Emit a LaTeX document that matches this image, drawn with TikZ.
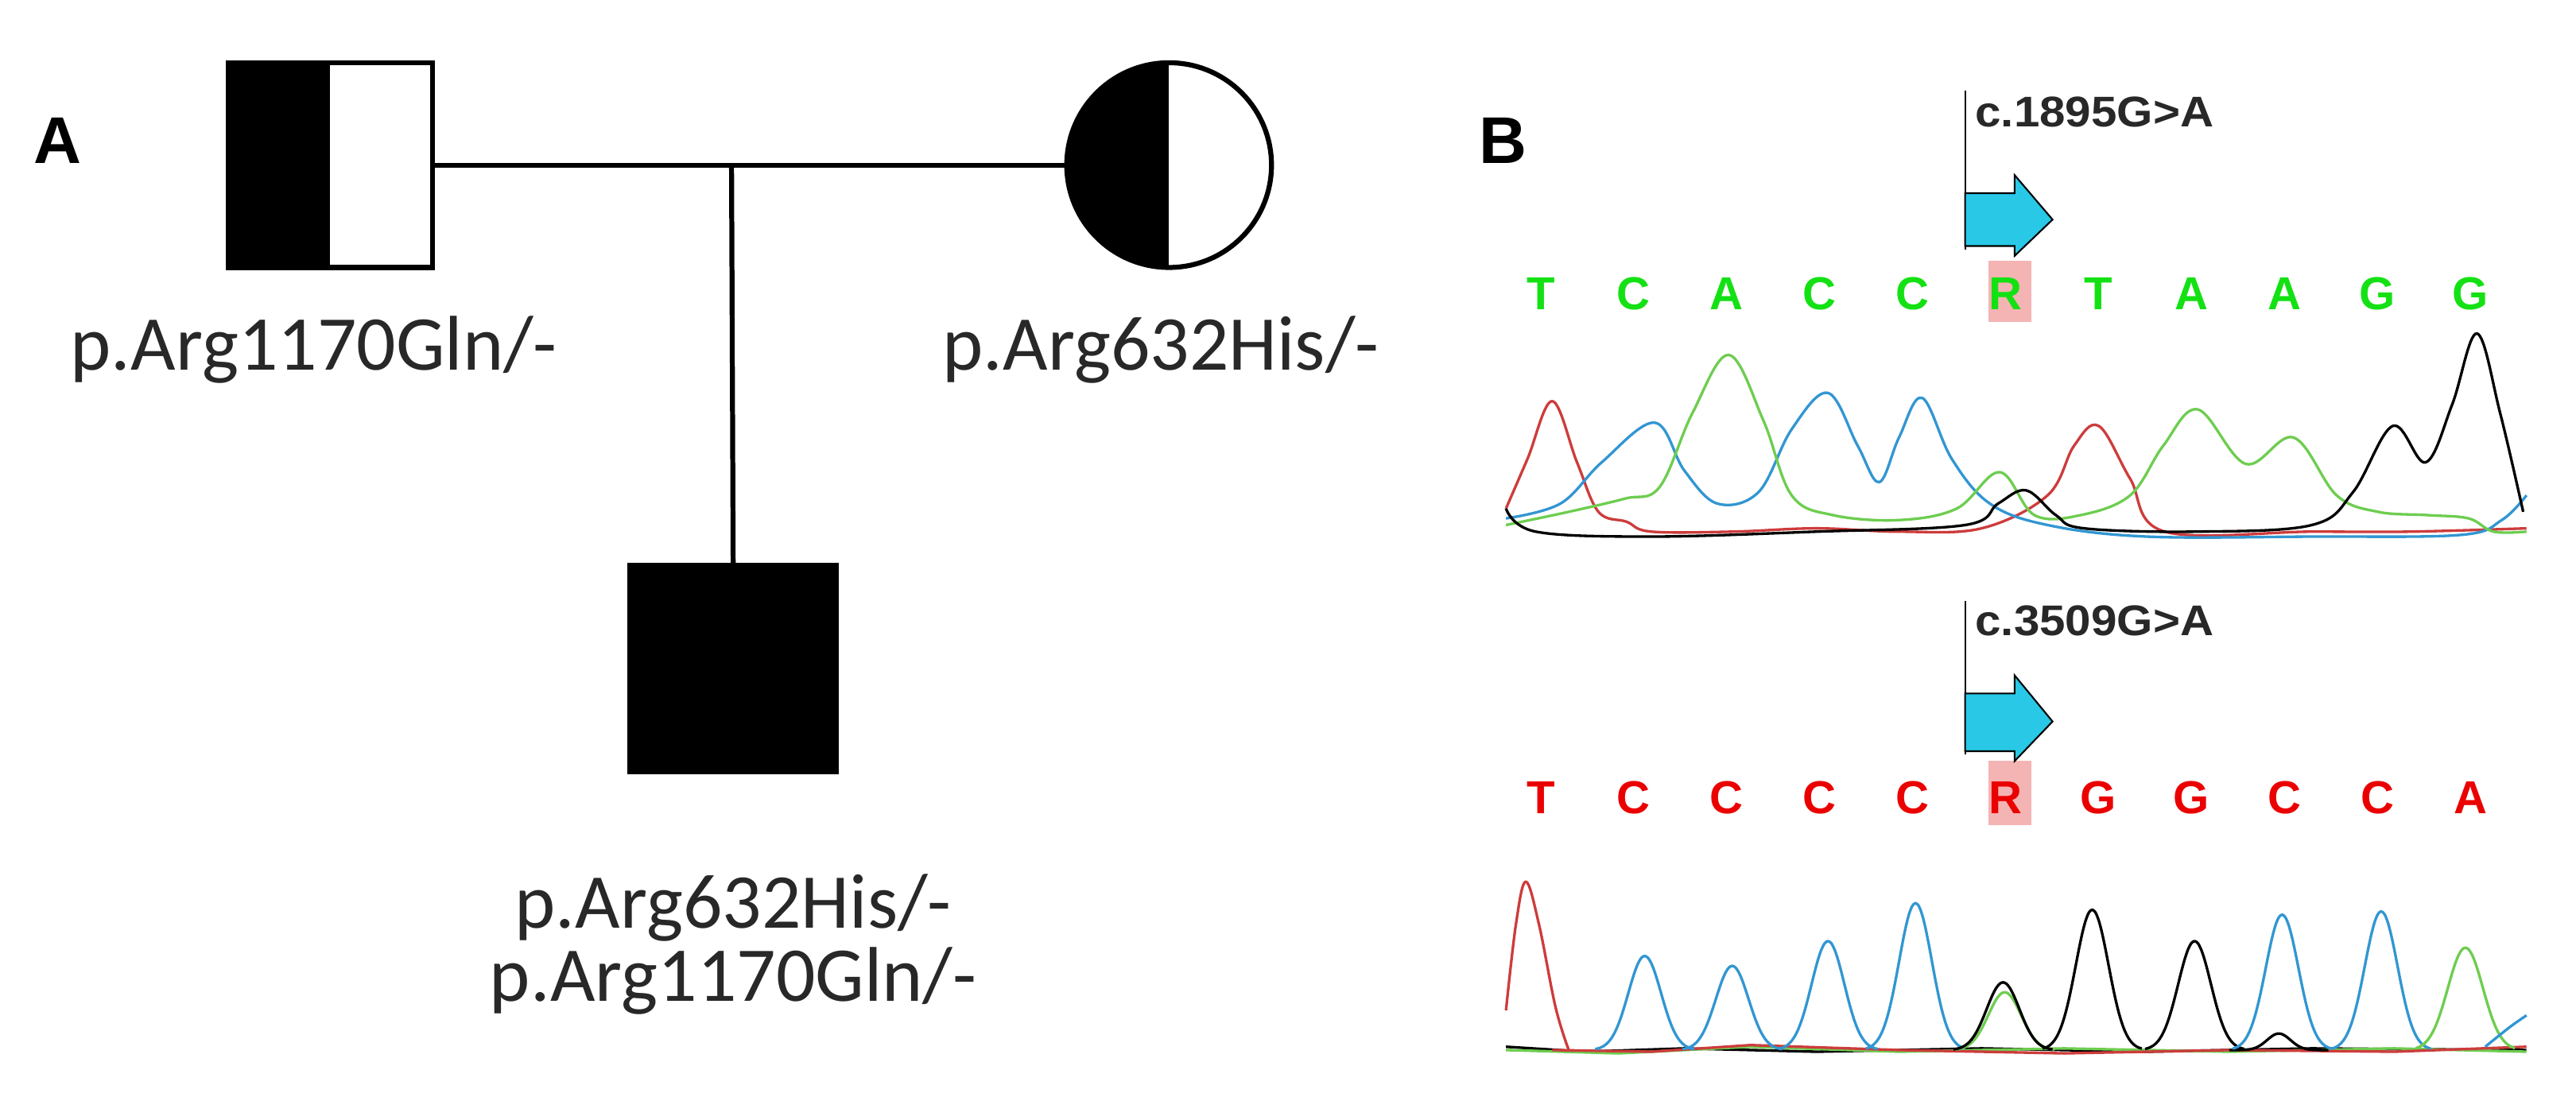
\documentclass[tikz,border=0pt]{standalone}
\usepackage{fontspec}
\setmainfont{Carlito}
\newfontfamily\arialf{Liberation Sans}
\begin{document}
\definecolor{seqg}{RGB}{20,225,20}
\definecolor{seqr}{RGB}{235,0,0}
\definecolor{tr}{RGB}{205,60,60}
\definecolor{tb}{RGB}{50,150,210}
\definecolor{tg}{RGB}{110,205,80}
\definecolor{hl}{RGB}{245,180,180}
\definecolor{cy}{RGB}{40,200,230}
\definecolor{txt}{RGB}{40,40,40}
\begin{tikzpicture}[x=1pt,y=-1pt,
  ped/.style={draw,line width=3pt,inner sep=0pt,outer sep=0pt},
  lbl/.style={font=\fontsize{47}{50}\selectfont,text=txt},
  panel/.style={font=\arialf\bfseries\fontsize{40}{44}\selectfont},
  base/.style={font=\arialf\bfseries\fontsize{28}{30}\selectfont},
  mut/.style={font=\arialf\bfseries\fontsize{26}{28}\selectfont,text=txt,xscale=1.08,anchor=west,inner sep=0pt},
  trace/.style={line width=1.6pt,line join=round}]
\useasboundingbox (0,0) rectangle (1560,664);
% ---------- Panel A ----------
\node[panel] (A) at (35,85) {A};
\node[ped,rectangle,minimum size=124pt,
  path picture={\fill[black] (path picture bounding box.north west) rectangle (path picture bounding box.south);}] (fa) at (200,100) {};
\node[ped,circle,minimum size=124pt,
  path picture={\fill[black] (path picture bounding box.north west) rectangle (path picture bounding box.south);}] (mo) at (708,100) {};
\node[ped,rectangle,minimum size=125pt,fill=black] (ch) at (444,405) {};
\draw[line width=3pt] (fa.east) -- (mo.west);
\coordinate (mid) at (443,100);
\draw[line width=3pt] (mid) -- (ch.north);
\node[lbl] (lfa) at (190,212) {p.Arg1170Gln/-};
\node[lbl] (lmo) at (703,212) {p.Arg632His/-};
\node[lbl] (lc1) at (444,550) {p.Arg632His/-};
\node[lbl] (lc2) at (444,594) {p.Arg1170Gln/-};
% ---------- Panel B ----------
\node[panel] (B) at (910,85) {B};
% chromatogram 1
\fill[hl] (1204,158) rectangle (1230,195);
\foreach \c [count=\i from 0] in {T,C,A,C,C,R,T,A,A,G,G}
  \node[base,text=seqg] (s1\i) at (933+56.3*\i,178) {\c};
\coordinate (m1top) at (1190,55);
\coordinate (m1bot) at (1190,151);
\draw[line width=1pt] (m1top) -- (m1bot);
\node[mut] (m1) at (1196,68) {c.1895G>A};
\filldraw[fill=cy,draw=black,line width=1pt] (1190,117) -- (1220,117) -- (1220,106) -- (1243,133) -- (1220,155) -- (1220,149) -- (1190,149) -- cycle;
\draw[trace,tr] plot[smooth,tension=0.6] coordinates {(912,308) (925,278) (940,243) (955,280) (968,310) (985,316) (1000,322) (1050,322) (1100,320) (1150,322) (1200,320) (1240,300) (1256,270) (1271,258) (1290,290) (1311,322) (1400,322) (1460,322) (1530,320)};
\draw[trace,tb] plot[smooth,tension=0.6] coordinates {(912,314) (945,305) (970,280) (1002,256) (1020,285) (1040,305) (1065,298) (1085,260) (1107,238) (1125,270) (1138,292) (1150,265) (1164,241) (1182,278) (1205,305) (1240,318) (1300,325) (1400,325) (1490,324) (1515,315) (1530,300)};
\draw[trace,tg] plot[smooth,tension=0.6] coordinates {(912,318) (950,310) (984,302) (1005,295) (1025,250) (1047,215) (1068,255) (1085,300) (1110,312) (1150,315) (1185,308) (1211,286) (1232,312) (1260,312) (1290,300) (1310,270) (1331,248) (1360,281) (1389,265) (1415,300) (1440,310) (1470,312) (1495,314) (1510,322) (1530,322)};
\draw[trace,black] plot[smooth,tension=0.6] coordinates {(912,308) (930,322) (1000,325) (1100,322) (1190,318) (1210,305) (1227,297) (1245,312) (1262,320) (1330,322) (1400,318) (1425,298) (1449,258) (1469,280) (1485,245) (1500,202) (1514,250) (1528,310)};
% chromatogram 2
\fill[hl] (1204,461) rectangle (1230,500);
\foreach \c [count=\i from 0] in {T,C,C,C,C,R,G,G,C,C,A}
  \node[base,text=seqr] (s2\i) at (933+56.3*\i,483) {\c};
\coordinate (m2top) at (1190,364);
\coordinate (m2bot) at (1190,457);
\draw[line width=1pt] (m2top) -- (m2bot);
\node[mut] (m2) at (1196,376) {c.3509G>A};
\filldraw[fill=cy,draw=black,line width=1pt] (1190,420) -- (1220,420) -- (1220,409) -- (1243,437) -- (1220,461) -- (1220,455) -- (1190,455) -- cycle;
\newcommand{\pk}[4]{\draw[trace,#1] plot[domain=#2-30:#2+30,samples=31,smooth] (\x,{636-(636-#3)*exp(-((\x-#2)/#4)^2)});}
\draw[trace,black] (912,634) -- (960,637) -- (1020,635) -- (1100,637) -- (1200,635) -- (1300,637) -- (1400,635) -- (1530,636);
\draw[trace,tg] (912,636) -- (980,638) -- (1060,634) -- (1150,637) -- (1250,635) -- (1350,637) -- (1450,635) -- (1530,637);
\draw[trace,tr] (940,636) -- (1000,637) -- (1060,633) -- (1150,636) -- (1250,638) -- (1350,636) -- (1450,637) -- (1530,634);
\draw[trace,tr] plot[smooth,tension=0.6] coordinates {(912,612) (918,560) (924,534) (932,560) (942,610) (950,636)};
\pk{tb}{996}{579}{14}
\pk{tb}{1049}{585}{14}
\pk{tb}{1107}{570}{14}
\pk{tb}{1160}{547}{14}
\pk{tg}{1214}{601}{14}
\pk{black}{1213}{595}{14}
\pk{black}{1267}{551}{14}
\pk{black}{1329}{570}{14}
\pk{black}{1380}{626}{10}
\pk{tb}{1382}{554}{14}
\pk{tb}{1442}{552}{14}
\pk{tg}{1493}{574}{15}
\draw[trace,tb] plot[smooth] coordinates {(1505,634) (1520,622) (1530,615)};
\end{tikzpicture}
\end{document}
